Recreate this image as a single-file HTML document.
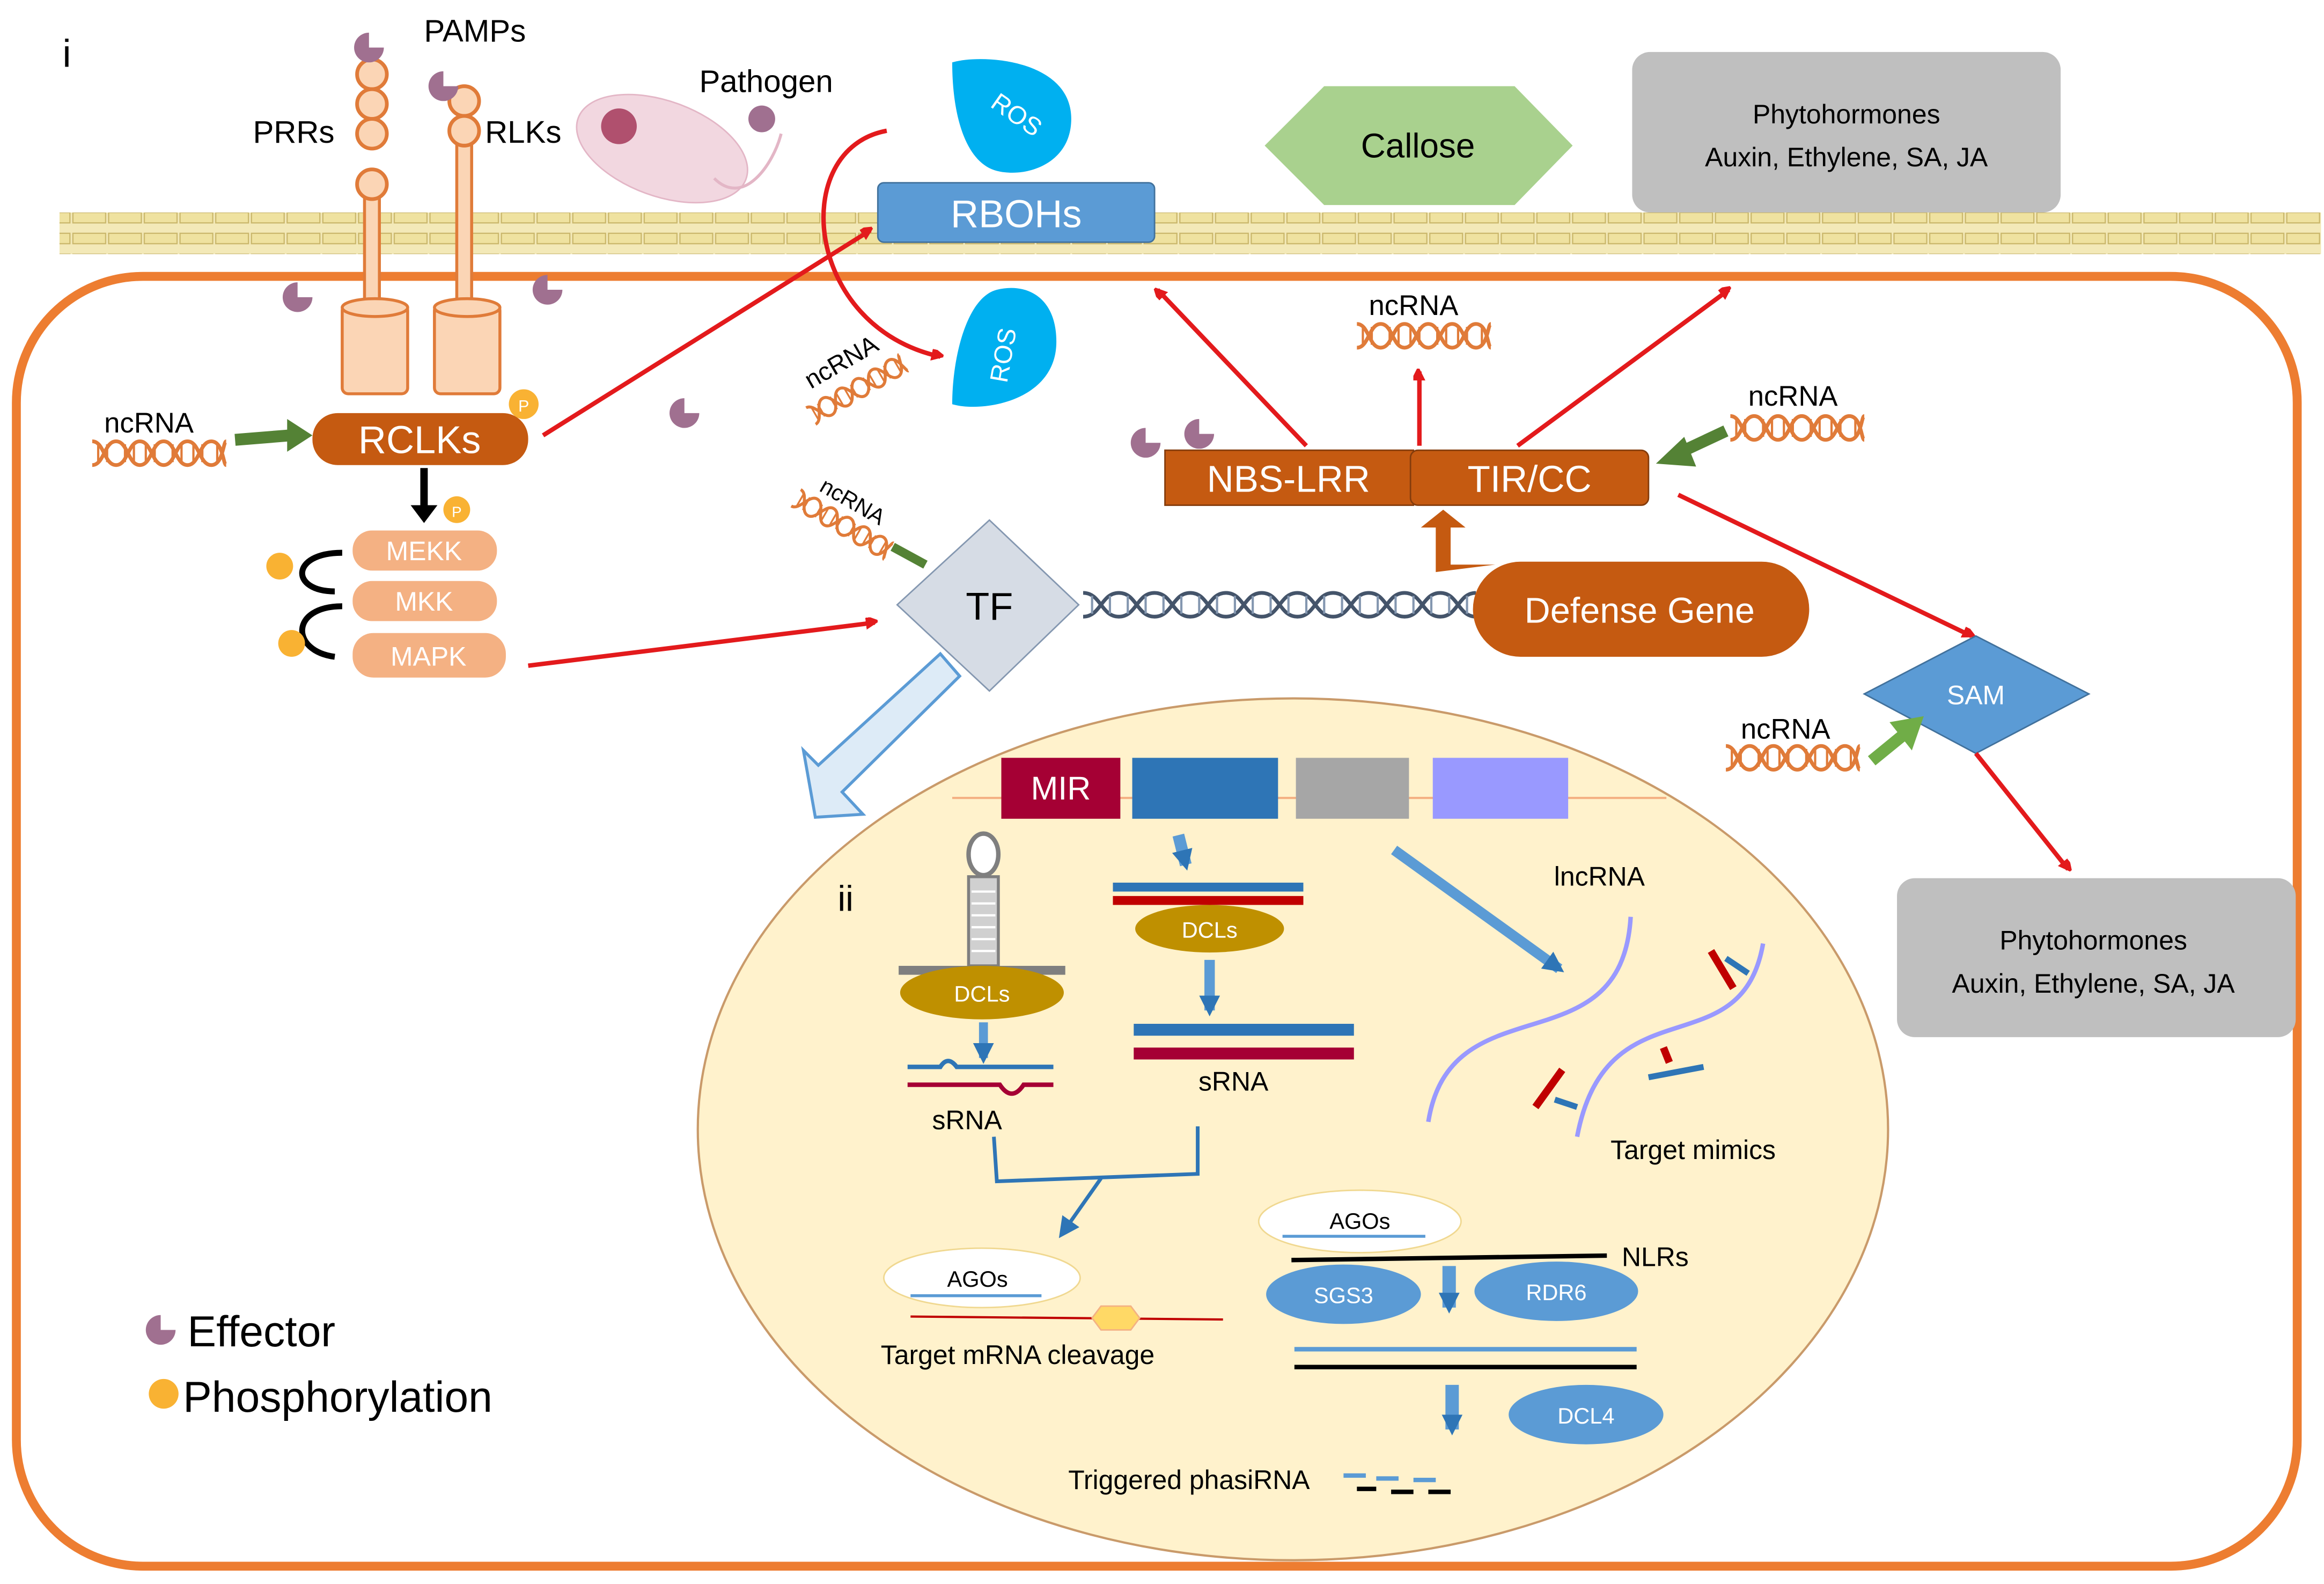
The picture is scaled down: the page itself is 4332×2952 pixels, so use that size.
<!DOCTYPE html>
<html><head><meta charset="utf-8"><style>
html,body{margin:0;padding:0;background:#fff}
svg{display:block}
text{font-family:"Liberation Sans",sans-serif}
</style></head><body>
<svg width="4332" height="2952" viewBox="0 0 1562 1066" preserveAspectRatio="none" xmlns="http://www.w3.org/2000/svg">
<defs>
<marker id="ar" markerWidth="8" markerHeight="8" refX="6" refY="4" orient="auto" markerUnits="userSpaceOnUse"><path d="M0,0 L8,4 L0,8 z" fill="#e31a1c" transform="scale(1.6) translate(-2,-2)"/></marker>
<marker id="ab" markerWidth="14" markerHeight="14" refX="10" refY="7" orient="auto" markerUnits="userSpaceOnUse"><path d="M0,0 L14,7 L0,14 z" fill="#2e75b6"/></marker>
<g id="dna">
<path d="M0,-8 C8,-8 8,8 16,8 C24,8 24,-8 32,-8 C40,-8 40,8 48,8 C56,8 56,-8 64,-8 C72,-8 72,8 80,8 C88,8 88,-8 90,-8" fill="none" stroke="#e07b39" stroke-width="2.5"/>
<path d="M0,8 C8,8 8,-8 16,-8 C24,-8 24,8 32,8 C40,8 40,-8 48,-8 C56,-8 56,8 64,8 C72,8 72,-8 80,-8 C88,-8 88,8 90,8" fill="none" stroke="#e07b39" stroke-width="2.5"/>
<path d="M4,-6v12M10,-6v12M22,-6v12M28,-6v12M36,-6v12M42,-6v12M54,-6v12M60,-6v12M68,-6v12M74,-6v12M84,-6v12" stroke="#e07b39" stroke-width="1.5"/>
</g>
<path id="eff" d="M0,-10 A10,10 0 1 0 10,0 L0,0 Z" fill="#a07090"/>
<pattern id="mem" width="24" height="28" patternUnits="userSpaceOnUse"><rect width="24" height="28" fill="#f3e9b8"/><rect x="1" y="3" width="22" height="7" fill="#efe2a0" stroke="#c9b66a" stroke-width="0.8"/><rect x="1" y="17" width="22" height="7" fill="#efe2a0" stroke="#c9b66a" stroke-width="0.8"/></pattern>
</defs>

<rect width="1562" height="1066" fill="#fff"/>
<rect x="11" y="186" width="1533" height="868" rx="85" fill="none" stroke="#ed7d31" stroke-width="6"/>
<rect x="40" y="143" width="1520" height="28" fill="url(#mem)"/>
<text x="42" y="45" font-size="26">i</text>

<rect x="245" y="125" width="10" height="90" fill="#fbd5b5" stroke="#e07b39" stroke-width="2"/>
<g fill="#fbd5b5" stroke="#e07b39" stroke-width="2.5"><circle cx="250" cy="50" r="10"/><circle cx="250" cy="70" r="10"/><circle cx="250" cy="90" r="10"/><circle cx="250" cy="124" r="10"/></g>
<use href="#eff" x="248" y="32"/>
<rect x="307" y="80" width="10" height="135" fill="#fbd5b5" stroke="#e07b39" stroke-width="2"/>
<g fill="#fbd5b5" stroke="#e07b39" stroke-width="2.5"><circle cx="312" cy="68" r="10"/><circle cx="312" cy="88" r="10"/></g>
<use href="#eff" x="298" y="58"/>
<g fill="#fbd5b5" stroke="#e07b39" stroke-width="2"><rect x="230" y="205" width="44" height="60" rx="4"/><ellipse cx="252" cy="207" rx="22" ry="6"/><rect x="292" y="205" width="44" height="60" rx="4"/><ellipse cx="314" cy="207" rx="22" ry="6"/></g>
<text x="285" y="28" font-size="21">PAMPs</text>
<text x="170" y="96" font-size="21">PRRs</text>
<text x="326" y="96" font-size="21">RLKs</text>
<ellipse cx="445" cy="100" rx="60" ry="32" transform="rotate(20 445 100)" fill="#f2d7e0" stroke="#e3b6c6"/>
<circle cx="416" cy="85" r="12" fill="#b0506e"/>
<path d="M480,120 C500,140 520,110 525,90" fill="none" stroke="#e3b6c6" stroke-width="2"/>
<text x="470" y="62" font-size="21">Pathogen</text>
<circle cx="512" cy="80" r="9" fill="#a07090"/>
<use href="#eff" x="200" y="200"/><use href="#eff" x="368" y="195"/><use href="#eff" x="460" y="278"/><use href="#eff" x="770" y="298"/><use href="#eff" x="806" y="292"/>

<path d="M596,88 C530,100 540,220 632,240" fill="none" stroke="#e31a1c" stroke-width="3" marker-end="url(#ar)"/>
<path d="M640,42 C660,36 720,40 720,80 C720,110 690,120 670,115 C650,110 640,80 640,42z" fill="#00b0f0"/>
<text x="680" y="82" font-size="17" fill="#fff" transform="rotate(35 680 82)" text-anchor="middle">ROS</text>
<path d="M640,272 C660,278 710,270 710,230 C710,200 690,190 670,195 C650,200 640,240 640,272z" fill="#00b0f0"/>
<text x="680" y="240" font-size="17" fill="#fff" transform="rotate(-80 680 240)" text-anchor="middle">ROS</text>
<rect x="590" y="123" width="186" height="40" rx="4" fill="#5b9bd5" stroke="#41719c"/>
<text x="683" y="153" font-size="26" fill="#fff" text-anchor="middle">RBOHs</text>

<polygon points="850,98 890,58 1018,58 1057,98 1018,138 890,138" fill="#a9d18e"/>
<text x="953" y="106" font-size="23" text-anchor="middle">Callose</text>
<rect x="1097" y="35" width="288" height="108" rx="12" fill="#bfbfbf"/>
<text x="1241" y="83" font-size="18" text-anchor="middle">Phytohormones</text>
<text x="1241" y="112" font-size="18" text-anchor="middle">Auxin, Ethylene, SA, JA</text>

<use href="#dna" x="62" y="305"/>
<text x="70" y="291" font-size="19">ncRNA</text>
<path d="M158,296 L195,293" stroke="#548235" stroke-width="8"/><path d="M193,282 L210,293 L193,304z" fill="#548235"/>
<rect x="210" y="278" width="145" height="35" rx="17" fill="#c55a11"/>
<text x="282" y="305" font-size="26" fill="#fff" text-anchor="middle">RCLKs</text>
<circle cx="352" cy="272" r="10" fill="#f9b233"/><text x="352" y="277" font-size="11" fill="#fff" text-anchor="middle">P</text>
<line x1="365" y1="293" x2="585" y2="155" stroke="#e31a1c" stroke-width="3" marker-end="url(#ar)"/>
<path d="M285,315 V345" stroke="#000" stroke-width="5"/><path d="M276,340 L285,352 L294,340z"/>
<circle cx="307" cy="343" r="9" fill="#f9b233"/><text x="307" y="348" font-size="10" fill="#fff" text-anchor="middle">P</text>
<g fill="#f4b183"><rect x="237" y="357" width="97" height="27" rx="13"/><rect x="237" y="391" width="97" height="27" rx="13"/><rect x="237" y="426" width="103" height="30" rx="14"/></g>
<g font-size="18" fill="#fff" text-anchor="middle"><text x="285" y="377">MEKK</text><text x="285" y="411">MKK</text><text x="288" y="448">MAPK</text></g>
<path d="M230,372 C195,372 195,398 225,398" fill="none" stroke="#000" stroke-width="4"/>
<path d="M230,408 C195,408 195,438 225,442" fill="none" stroke="#000" stroke-width="4"/>
<circle cx="188" cy="381" r="9" fill="#f9b233"/><circle cx="196" cy="433" r="9" fill="#f9b233"/>
<line x1="355" y1="448" x2="588" y2="419" stroke="#e31a1c" stroke-width="3" marker-end="url(#ar)"/>

<g transform="translate(545,280) rotate(-30)"><use href="#dna" transform="scale(0.8)"/></g>
<text x="545" y="262" font-size="17" transform="rotate(-30 545 262)">ncRNA</text>
<g transform="translate(535,335) rotate(30)"><use href="#dna" transform="scale(0.8)"/></g>
<text x="550" y="330" font-size="15" transform="rotate(30 550 330)">ncRNA</text>
<path d="M600,368 L622,380" stroke="#548235" stroke-width="6"/>

<polygon points="665,350 725,407 665,465 603,407" fill="#d6dce5" stroke="#8497b0"/>
<text x="665" y="417" font-size="26" text-anchor="middle">TF</text>
<path d="M728,399 C740,399 740,415 752,415 C764,415 764,399 776,399 C788,399 788,415 800,415 C812,415 812,399 824,399 C836,399 836,415 848,415 C860,415 860,399 872,399 C884,399 884,415 896,415 C908,415 908,399 920,399 C932,399 932,415 944,415 C956,415 956,399 968,399 C980,399 980,415 992,415" fill="none" stroke="#44546a" stroke-width="2.5"/>
<path d="M728,415 C740,415 740,399 752,399 C764,399 764,415 776,415 C788,415 788,399 800,399 C812,399 812,415 824,415 C836,415 836,399 848,399 C860,399 860,415 872,415 C884,415 884,399 896,399 C908,399 908,415 920,415 C932,415 932,399 944,399 C956,399 956,415 968,415 C980,415 980,399 992,399" fill="none" stroke="#44546a" stroke-width="2.5"/>
<path d="M734,401v12M746,401v12M758,401v12M770,401v12M782,401v12M794,401v12M806,401v12M818,401v12M830,401v12M842,401v12M854,401v12M866,401v12M878,401v12M890,401v12M902,401v12M914,401v12M926,401v12M938,401v12M950,401v12M962,401v12M974,401v12M986,401v12" stroke="#8497b0" stroke-width="1.5"/>
<rect x="990" y="378" width="226" height="64" rx="32" fill="#c55a11"/>
<text x="1102" y="419" font-size="24" fill="#fff" text-anchor="middle">Defense Gene</text>
<path d="M965,385 V355 h-10 l15,-12 l15,12 h-10 V380 h30" fill="#c55a11"/>

<rect x="783" y="303" width="167" height="37" fill="#c55a11" stroke="#843c0c"/>
<rect x="948" y="303" width="160" height="37" rx="5" fill="#c55a11" stroke="#843c0c"/>
<text x="866" y="331" font-size="25" fill="#fff" text-anchor="middle">NBS-LRR</text>
<text x="1028" y="331" font-size="25" fill="#fff" text-anchor="middle">TIR/CC</text>
<line x1="878" y1="300" x2="778" y2="195" stroke="#e31a1c" stroke-width="3" marker-end="url(#ar)"/>
<line x1="954" y1="300" x2="954" y2="250" stroke="#e31a1c" stroke-width="3" marker-end="url(#ar)"/>
<line x1="1020" y1="300" x2="1162" y2="195" stroke="#e31a1c" stroke-width="3" marker-end="url(#ar)"/>
<use href="#dna" x="912" y="226"/>
<text x="920" y="212" font-size="19">ncRNA</text>
<use href="#dna" x="1163" y="288"/>
<text x="1175" y="273" font-size="19">ncRNA</text>
<path d="M1160,290 L1128,305" stroke="#548235" stroke-width="8"/><path d="M1132,294 L1113,312 L1140,314z" fill="#548235"/>
<line x1="1128" y1="333" x2="1325" y2="428" stroke="#e31a1c" stroke-width="3" marker-end="url(#ar)"/>

<polygon points="1253,467 1328,428 1404,467 1328,507" fill="#5b9bd5" stroke="#41719c"/>
<text x="1328" y="474" font-size="18" fill="#fff" text-anchor="middle">SAM</text>
<use href="#dna" x="1160" y="510"/>
<text x="1170" y="497" font-size="19">ncRNA</text>
<path d="M1258,512 L1280,494" stroke="#70ad47" stroke-width="8"/><path d="M1270,486 L1293,482 L1285,505z" fill="#70ad47"/>
<line x1="1328" y1="507" x2="1390" y2="585" stroke="#e31a1c" stroke-width="3" marker-end="url(#ar)"/>
<rect x="1275" y="591" width="268" height="107" rx="12" fill="#bfbfbf"/>
<text x="1407" y="639" font-size="18" text-anchor="middle">Phytohormones</text>
<text x="1407" y="668" font-size="18" text-anchor="middle">Auxin, Ethylene, SA, JA</text>

<ellipse cx="869" cy="760" rx="400" ry="290" fill="#fff2cc" stroke="#c99a6a" stroke-width="1.5"/>
<path d="M632,440 L550,515 L540,505 L548,550 L580,548 L566,533 L645,455z" fill="#ddebf7" stroke="#5b9bd5" stroke-width="2"/>
<line x1="640" y1="537" x2="1120" y2="537" stroke="#f4b183" stroke-width="1.5"/>
<rect x="673" y="510" width="80" height="41" fill="#a50034"/>
<text x="713" y="538" font-size="22" fill="#fff" text-anchor="middle">MIR</text>
<rect x="761" y="510" width="98" height="41" fill="#2e75b6"/>
<rect x="871" y="510" width="76" height="41" fill="#a6a6a6"/>
<rect x="963" y="510" width="91" height="41" fill="#9999ff"/>
<text x="563" y="613" font-size="24">ii</text>
<rect x="651" y="590" width="20" height="60" fill="#d0d0d0" stroke="#7f7f7f" stroke-width="2"/>
<path d="M653,600h16M653,608h16M653,616h16M653,624h16M653,632h16M653,640h16" stroke="#fff" stroke-width="1.5"/>
<ellipse cx="661" cy="575" rx="10" ry="14" fill="#fff" stroke="#7f7f7f" stroke-width="3"/>
<rect x="604" y="650" width="112" height="6" fill="#7f7f7f"/>
<ellipse cx="660" cy="668" rx="55" ry="18" fill="#bf9000"/>
<text x="660" y="674" font-size="15" fill="#fff" text-anchor="middle">DCLs</text>
<line x1="661" y1="688" x2="661" y2="712" stroke="#5b9bd5" stroke-width="6" marker-end="url(#ab)"/>
<path d="M610,718 H632 Q637,710 643,718 H708" fill="none" stroke="#2e75b6" stroke-width="3"/>
<path d="M610,730 H672 Q680,742 688,730 H708" fill="none" stroke="#a50034" stroke-width="3"/>
<text x="650" y="760" font-size="18" text-anchor="middle">sRNA</text>
<line x1="792" y1="562" x2="797" y2="582" stroke="#5b9bd5" stroke-width="8" marker-end="url(#ab)"/>
<rect x="748" y="594" width="128" height="6" fill="#2e75b6"/>
<rect x="748" y="603" width="128" height="6" fill="#c00000"/>
<ellipse cx="813" cy="625" rx="50" ry="16" fill="#bf9000"/>
<text x="813" y="631" font-size="15" fill="#fff" text-anchor="middle">DCLs</text>
<line x1="813" y1="646" x2="813" y2="680" stroke="#5b9bd5" stroke-width="7" marker-end="url(#ab)"/>
<rect x="762" y="689" width="148" height="8" fill="#2e75b6"/>
<rect x="762" y="705" width="148" height="8" fill="#a50034"/>
<text x="829" y="734" font-size="18" text-anchor="middle">sRNA</text>
<path d="M668,765 L670,795 L805,790 L805,758" fill="none" stroke="#2e75b6" stroke-width="2.5"/>
<line x1="740" y1="793" x2="714" y2="830" stroke="#2e75b6" stroke-width="2.5" marker-end="url(#ab)"/>
<ellipse cx="660" cy="860" rx="66" ry="20" fill="#fff" stroke="#f0d890"/>
<text x="657" y="866" font-size="15" text-anchor="middle">AGOs</text>
<line x1="612" y1="872" x2="700" y2="872" stroke="#5b9bd5" stroke-width="2"/>
<line x1="612" y1="886" x2="822" y2="888" stroke="#c00000" stroke-width="1.5"/>
<polygon points="740,879 760,879 766,887 760,895 740,895 734,887" fill="#ffd966" stroke="#f4b183"/>
<text x="684" y="918" font-size="18" text-anchor="middle">Target mRNA cleavage</text>
<line x1="937" y1="572" x2="1048" y2="652" stroke="#5b9bd5" stroke-width="7" marker-end="url(#ab)"/>
<text x="1075" y="596" font-size="18" text-anchor="middle">lncRNA</text>
<path d="M1096,617 C1090,720 975,660 960,755" fill="none" stroke="#9999ff" stroke-width="3"/>
<path d="M1185,635 C1170,720 1080,660 1060,765" fill="none" stroke="#9999ff" stroke-width="3"/>
<g stroke="#c00000" stroke-width="5"><line x1="1150" y1="640" x2="1165" y2="665"/><line x1="1032" y1="745" x2="1050" y2="720"/><line x1="1118" y1="705" x2="1122" y2="715"/></g>
<g stroke="#2e75b6" stroke-width="4"><line x1="1160" y1="645" x2="1175" y2="655"/><line x1="1045" y1="740" x2="1060" y2="745"/><line x1="1108" y1="725" x2="1145" y2="718"/></g>
<text x="1138" y="780" font-size="18" text-anchor="middle">Target mimics</text>
<ellipse cx="914" cy="822" rx="68" ry="21" fill="#fff" stroke="#f0d890"/>
<text x="914" y="827" font-size="15" text-anchor="middle">AGOs</text>
<line x1="862" y1="832" x2="958" y2="832" stroke="#5b9bd5" stroke-width="2"/>
<line x1="868" y1="848" x2="1080" y2="845" stroke="#000" stroke-width="3"/>
<text x="1090" y="852" font-size="18">NLRs</text>
<ellipse cx="903" cy="871" rx="52" ry="20" fill="#5b9bd5"/><text x="903" y="877" font-size="15" fill="#fff" text-anchor="middle">SGS3</text>
<ellipse cx="1046" cy="869" rx="55" ry="20" fill="#5b9bd5"/><text x="1046" y="875" font-size="15" fill="#fff" text-anchor="middle">RDR6</text>
<line x1="974" y1="852" x2="974" y2="880" stroke="#5b9bd5" stroke-width="9" marker-end="url(#ab)"/>
<line x1="870" y1="908" x2="1100" y2="908" stroke="#5b9bd5" stroke-width="3"/>
<line x1="870" y1="920" x2="1100" y2="920" stroke="#000" stroke-width="3"/>
<line x1="976" y1="932" x2="976" y2="962" stroke="#5b9bd5" stroke-width="9" marker-end="url(#ab)"/>
<ellipse cx="1066" cy="952" rx="52" ry="20" fill="#5b9bd5"/><text x="1066" y="958" font-size="15" fill="#fff" text-anchor="middle">DCL4</text>
<text x="718" y="1002" font-size="18">Triggered phasiRNA</text>
<g stroke="#5b9bd5" stroke-width="3"><line x1="903" y1="993" x2="918" y2="993"/><line x1="925" y1="995" x2="940" y2="995"/><line x1="950" y1="996" x2="965" y2="996"/></g>
<g stroke="#000" stroke-width="3"><line x1="912" y1="1002" x2="925" y2="1002"/><line x1="935" y1="1004" x2="950" y2="1004"/><line x1="960" y1="1004" x2="975" y2="1004"/></g>

<use href="#eff" x="108" y="895"/>
<text x="126" y="906" font-size="29">Effector</text>
<circle cx="110" cy="938" r="10" fill="#f9b233"/>
<text x="123" y="950" font-size="29">Phosphorylation</text>
</svg>
</body></html>
